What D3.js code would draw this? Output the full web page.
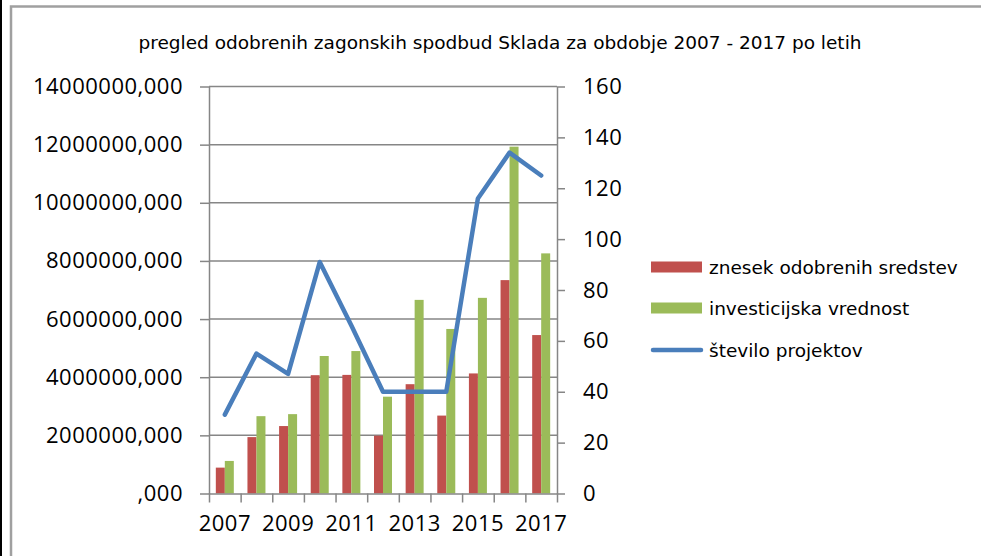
<!DOCTYPE html>
<html>
<head>
<meta charset="utf-8">
<script src="https://cdn.jsdelivr.net/npm/d3@7"></script>
<style>
  body { margin: 0; background: #fff; }
  svg { display: block; }
</style>
</head>
<body>
<div id="chart"></div>
<script>
// podatki odcitani s slike
const years = ['2007','2008','2009','2010','2011','2012','2013','2014','2015','2016','2017'];
const znesek = [890000, 1940000, 2320000, 4070000, 4080000, 1990000, 3760000, 2680000, 4130000, 7340000, 5450000];
const investicija = [1120000, 2660000, 2730000, 4730000, 4900000, 3330000, 6660000, 5660000, 6730000, 11930000, 8260000];
const projekti = [31, 55, 47, 91, 66, 40, 40, 40, 116, 134, 125];
const leftTicks = [0, 2000000, 4000000, 6000000, 8000000, 10000000, 12000000, 14000000];
const rightTicks = [0, 20, 40, 60, 80, 100, 120, 140, 160];
const yearLabels = ['2007','2009','2011','2013','2015','2017'];
const seriesNames = ['znesek odobrenih sredstev', 'investicijska vrednost', 'število projektov'];

const W = 981, H = 556;
const plotLeft = 209, plotRight = 557, plotTop = 86.5, plotBottom = 493.5;
const red = '#c0504d', green = '#9bbb59', blue = '#4a7ebb', axisGrey = '#868686';
const tickFont = '"Open Sans", sans-serif';
const textFont = '"DejaVu Sans", sans-serif';

const svg = d3.select('#chart').append('svg').attr('width', W).attr('height', H);

// okvir
svg.append('rect').attr('x', 0).attr('y', 0).attr('width', 2).attr('height', H).attr('fill', '#000');
svg.append('rect').attr('x', 11).attr('y', 6.5).attr('width', W + 20).attr('height', H + 20)
    .attr('fill', 'none').attr('stroke', '#a0a0a0').attr('stroke-width', 2.5);

const x = d3.scaleBand().domain(years).range([plotLeft, plotRight]).padding(0);
const barW = 9;
const x1 = d3.scaleBand().domain(['z', 'i'])
    .range([(x.bandwidth() - 2 * barW) / 2, (x.bandwidth() + 2 * barW) / 2]);
const y = d3.scaleLinear().domain([0, 14000000]).range([plotBottom, plotTop]);
const y2 = d3.scaleLinear().domain([0, 160]).range([plotBottom, plotTop]);
const xEdge = d3.scaleLinear().domain([0, years.length]).range([plotLeft, plotRight]);

// mreza
svg.append('g').selectAll('line').data(leftTicks.slice(1)).join('line')
    .attr('x1', plotLeft).attr('x2', plotRight)
    .attr('y1', d => y(d)).attr('y2', d => y(d))
    .attr('stroke', axisGrey).attr('stroke-width', 1.5);

// stolpci
const groups = svg.append('g').selectAll('g').data(years).join('g')
    .attr('transform', d => 'translate(' + x(d) + ',0)');
groups.append('rect')
    .attr('x', x1('z')).attr('width', x1.bandwidth())
    .attr('y', (d, i) => y(znesek[i])).attr('height', (d, i) => plotBottom - y(znesek[i]))
    .attr('fill', red);
groups.append('rect')
    .attr('x', x1('i')).attr('width', x1.bandwidth())
    .attr('y', (d, i) => y(investicija[i])).attr('height', (d, i) => plotBottom - y(investicija[i]))
    .attr('fill', green);

// osi
function styleAxis(g) {
    g.select('.domain').attr('stroke', axisGrey).attr('stroke-width', 1.5);
    g.selectAll('.tick line').attr('stroke', axisGrey).attr('stroke-width', 1.5);
    g.selectAll('text').attr('fill', '#000').style('font-family', tickFont)
        .style('font-size', '22px').style('letter-spacing', '0.5px');
}

const yAxis = d3.axisLeft(y).tickValues(leftTicks).tickSizeInner(9).tickSizeOuter(0).tickPadding(17)
    .tickFormat(d => (d === 0 ? '' : d) + ',000');
svg.append('g').attr('transform', 'translate(' + plotLeft + ',0)').call(yAxis).call(styleAxis);

const yAxis2 = d3.axisRight(y2).tickValues(rightTicks).tickSizeInner(8).tickSizeOuter(0).tickPadding(18);
svg.append('g').attr('transform', 'translate(' + plotRight + ',0)').call(yAxis2).call(styleAxis);

const xAxis = d3.axisBottom(xEdge).ticks(years.length).tickSizeInner(9).tickSizeOuter(0).tickFormat('');
svg.append('g').attr('transform', 'translate(0,' + plotBottom + ')').call(xAxis).call(styleAxis);

const xLabels = d3.axisBottom(x).tickValues(yearLabels).tickSize(0).tickPadding(22);
svg.append('g').attr('transform', 'translate(0,' + plotBottom + ')').call(xLabels).call(styleAxis)
    .call(g => g.select('.domain').remove());

// crta
const line = d3.line()
    .x((d, i) => x(years[i]) + x.bandwidth() / 2)
    .y(d => y2(d));
svg.append('path').attr('d', line(projekti))
    .attr('fill', 'none').attr('stroke', blue).attr('stroke-width', 4.5)
    .attr('stroke-linejoin', 'round').attr('stroke-linecap', 'round');

// naslov
svg.append('text').attr('x', 500).attr('y', 49).attr('text-anchor', 'middle')
    .style('font-family', textFont).style('font-size', '18.5px')
    .text('pregled odobrenih zagonskih spodbud Sklada za obdobje 2007 - 2017 po letih');

// legenda
const legend = svg.append('g').attr('transform', 'translate(651,0)');
const legY = [267, 308, 350];
legend.selectAll('rect').data(seriesNames.slice(0, 2)).join('rect')
    .attr('x', 0).attr('y', (d, i) => legY[i] - 5.5).attr('width', 51).attr('height', 11)
    .attr('fill', (d, i) => [red, green][i]);
legend.append('line').attr('x1', 2).attr('x2', 50).attr('y1', legY[2]).attr('y2', legY[2])
    .attr('stroke', blue).attr('stroke-width', 4.5).attr('stroke-linecap', 'round');
legend.selectAll('text').data(seriesNames).join('text')
    .attr('x', 58).attr('y', (d, i) => legY[i]).attr('dy', '0.36em')
    .style('font-family', textFont).style('font-size', '18.5px')
    .text(d => d);
</script>
</body>
</html>
